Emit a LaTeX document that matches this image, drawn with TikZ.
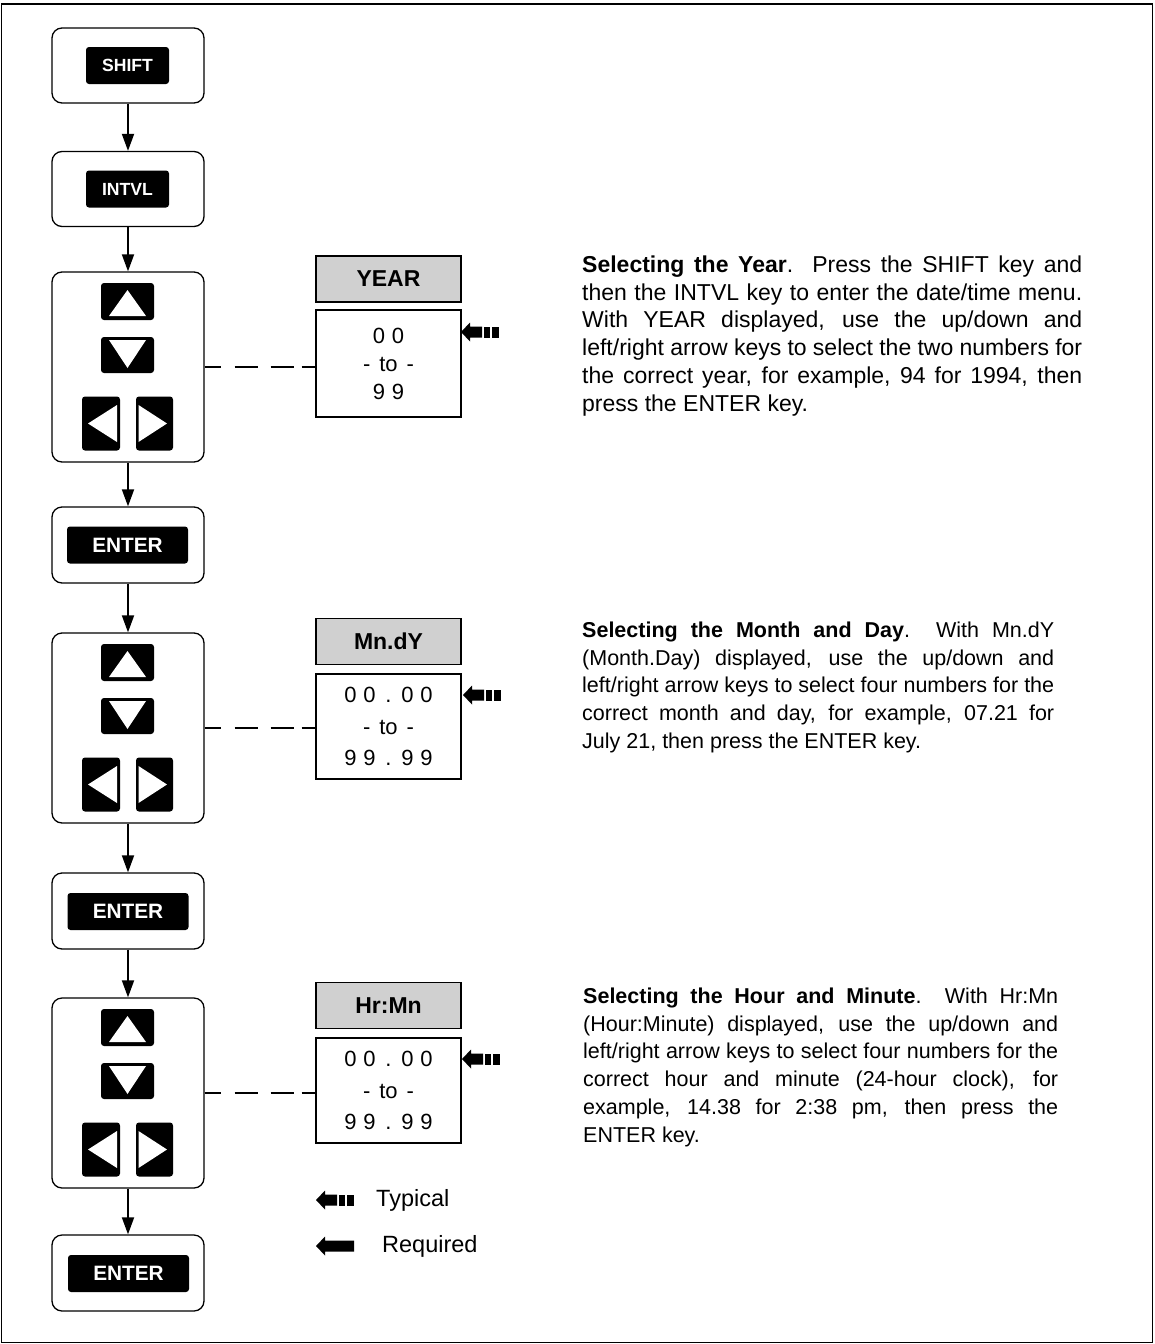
\documentclass[tikz,border=0pt]{standalone}
\usepackage{fontspec}
\setmainfont{Liberation Sans}
\usetikzlibrary{arrows.meta}
\definecolor{hdrgray}{RGB}{208,208,208}
\newcommand\dg[1]{\makebox[19pt]{#1}}
\newcommand\keypad[2]{%
  \node[outerbox, minimum height=190pt] (#1) at (128,#2+95) {};
  \node[keycap, minimum width=53pt, minimum height=37pt] (#1up) at (127.5,#2+29.5) {};
  \node[keycap, minimum width=53pt, minimum height=36pt] (#1dn) at (127.5,#2+83) {};
  \node[keycap, minimum width=38pt, minimum height=54pt] (#1lt) at (101,#2+151.5) {};
  \node[keycap, minimum width=37pt, minimum height=54pt] (#1rt) at (154.5,#2+151.5) {};
  \fill[white, shift={(#1up.center)}] (-18.5,14.5) -- (18.5,14.5) -- (0,-11.5) -- cycle;
  \fill[white, shift={(#1dn.center)}] (-18.5,-15) -- (18.5,-15) -- (0,13) -- cycle;
  \fill[white, shift={(#1lt.center)}] (16,-18.5) -- (16,18.5) -- (-13,0) -- cycle;
  \fill[white, shift={(#1rt.center)}] (-16,-18.5) -- (-16,18.5) -- (12.5,0) -- cycle;
}
\begin{document}
\begin{tikzpicture}[x=1pt,y=-1pt,
  outerbox/.style={draw, line width=1.3pt, rounded corners=10pt, minimum width=152pt, inner sep=0pt},
  keycap/.style={fill=black, rounded corners=3pt, text=white, inner sep=0pt},
  smallkey/.style={keycap, minimum width=83pt, minimum height=37pt, font=\bfseries\fontsize{17.6}{18}\selectfont},
  enterkey/.style={keycap, minimum width=121pt, minimum height=37pt, font=\bfseries\fontsize{20.8}{21}\selectfont},
  conn/.style={line width=1.8pt, -{Triangle[length=17pt,width=12pt]}},
  hdr/.style={draw, line width=1.2pt, fill=hdrgray, minimum width=145pt, minimum height=46pt, font=\bfseries\fontsize{23}{23}\selectfont, inner sep=0pt},
  valbox/.style={draw, line width=1.2pt, minimum width=145pt, inner sep=0pt, align=center},
  dashconn/.style={line width=1.2pt, dash pattern=on 16pt off 14pt on 23pt off 13pt on 23pt off 8pt on 17pt},
  para/.style={anchor=north west, inner sep=0pt, align=justify},
  legtext/.style={anchor=base west, inner sep=0pt, font=\fontsize{23.5}{24}\selectfont},
  typical/.pic={
    \fill (0,0) -- (9,-9.5) -- (9,-5.5) -- (21,-5.5) -- (21,5.5) -- (9,5.5) -- (9,9.5) -- cycle;
    \fill (23,-5.5) rectangle (29,5.5);
    \fill (31,-5.5) rectangle (38,5.5);
  },
  required/.pic={
    \fill (0,0) -- (9,-9.5) -- (9,-5.5) -- (38,-5.5) -- (38,5.5) -- (9,5.5) -- (9,9.5) -- cycle;
  },
]
\useasboundingbox (0,0) rectangle (1154,1344);
\draw[line width=1.6pt] (1.5,4) rectangle (1152.5,1342.5);

% single key boxes
\node[outerbox, minimum height=75pt] (shiftbox) at (128,65.5) {};
\node[smallkey] (shiftkey) at (127.5,65.5) {SHIFT};
\node[outerbox, minimum height=75pt] (intvlbox) at (128,189) {};
\node[smallkey] (intvlkey) at (127.5,189) {INTVL};
\node[outerbox, minimum height=76pt] (enterbox1) at (128,545) {};
\node[enterkey] (enterkey1) at (127.5,545) {ENTER};
\node[outerbox, minimum height=76pt] (enterbox2) at (128,911) {};
\node[enterkey] (enterkey2) at (128,911.5) {ENTER};
\node[outerbox, minimum height=76pt] (enterbox3) at (128,1273) {};
\node[enterkey] (enterkey3) at (128.5,1273.5) {ENTER};

% keypads
\keypad{kp1}{272}
\keypad{kp2}{633}
\keypad{kp3}{998}

% connectors
\draw[conn] (shiftbox.south) -- (intvlbox.north);
\draw[conn] (intvlbox.south) -- (kp1.north);
\draw[conn] (kp1.south) -- (enterbox1.north);
\draw[conn] (enterbox1.south) -- (kp2.north);
\draw[conn] (kp2.south) -- (enterbox2.north);
\draw[conn] (enterbox2.south) -- (kp3.north);
\draw[conn] (kp3.south) -- (enterbox3.north);

% displays
\node[hdr] (hdr1) at (388.5,279) {YEAR};
\node[valbox, minimum height=107pt, font=\fontsize{22}{28}\selectfont] (val1) at (388.5,363.5)
  {\dg0\dg0\\-\hspace{9pt}to\hspace{9pt}-\\\dg9\dg9};
\node[hdr] (hdr2) at (388.5,641.5) {Mn.dY};
\node[valbox, minimum height=105pt, font=\fontsize{22}{31.5}\selectfont] (val2) at (388.5,726.5)
  {\dg0\dg0\dg.\dg0\dg0\\-\hspace{9pt}to\hspace{9pt}-\\\dg9\dg9\dg.\dg9\dg9};
\node[hdr] (hdr3) at (388.5,1005.5) {Hr:Mn};
\node[valbox, minimum height=105pt, font=\fontsize{22}{31.5}\selectfont] (val3) at (388.5,1090.5)
  {\dg0\dg0\dg.\dg0\dg0\\-\hspace{9pt}to\hspace{9pt}-\\\dg9\dg9\dg.\dg9\dg9};

% dashed links
\draw[dashconn] (kp1.east) -- (kp1.east -| val1.west);
\draw[dashconn] (kp2.east) -- (kp2.east -| val2.west);
\draw[dashconn] (kp3.east) -- (kp3.east -| val3.west);

% typical markers
\pic at (461,332) {typical};
\pic at (463,695) {typical};
\pic at (462,1059) {typical};

% legend
\pic at (316,1200) {typical};
\node[legtext] (legtyp) at (376,1206) {Typical};
\pic at (316,1246) {required};
\node[legtext] (legreq) at (382,1252) {Required};

% paragraphs
\node[para, text width=500pt, font=\fontsize{23}{27.8}\selectfont] (para1) at (582,255.5)
  {\textbf{Selecting the Year}.\ \ Press the SHIFT key and\linebreak
   then the INTVL key to enter the date/time menu.\linebreak
   With YEAR displayed, use the up/down and\linebreak
   left/right arrow keys to select the two numbers for\linebreak
   the correct year, for example, 94 for 1994, then\linebreak
   press the ENTER key.};
\node[para, text width=472pt, font=\fontsize{21.5}{27.8}\selectfont] (para2) at (582,621.5)
  {\textbf{Selecting the Month and Day}.\ \ With Mn.dY\linebreak
   (Month.Day) displayed, use the up/down and\linebreak
   left/right arrow keys to select four numbers for the\linebreak
   correct month and day, for example, 07.21 for\linebreak
   July 21, then press the ENTER key.};
\node[para, text width=475pt, font=\fontsize{21.5}{27.8}\selectfont] (para3) at (583,987.5)
  {\textbf{Selecting the Hour and Minute}.\ \ With Hr:Mn\linebreak
   (Hour:Minute) displayed, use the up/down and\linebreak
   left/right arrow keys to select four numbers for the\linebreak
   correct hour and minute (24-hour clock), for\linebreak
   example, 14.38 for 2:38 pm, then press the\linebreak
   ENTER key.};
\end{tikzpicture}
\end{document}
